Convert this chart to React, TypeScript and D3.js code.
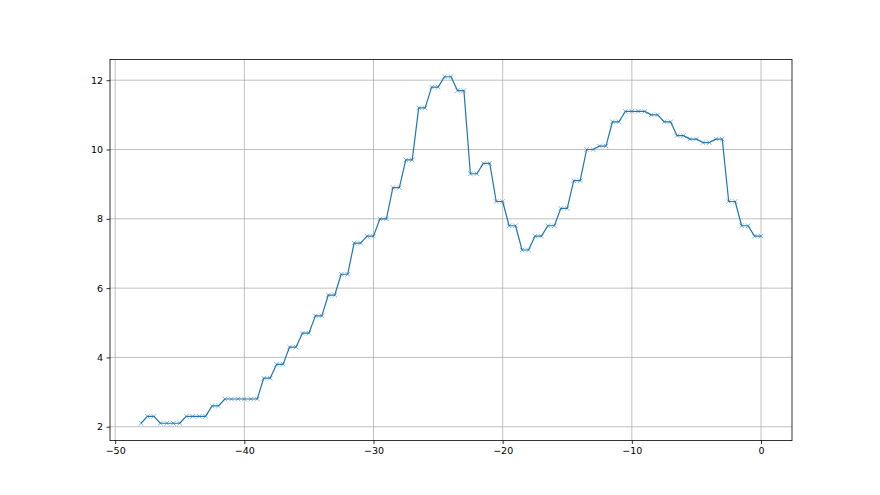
import React, { useEffect, useRef } from 'react';
import * as d3 from 'd3';

const hours = [
  -48,
  -47.5, -47, -46.5, -46, -45.5, -45, -44.5, -44, -43.5, -43,
  -42.5, -42, -41.5, -41, -40.5, -40, -39.5, -39, -38.5, -38,
  -37.5, -37, -36.5, -36, -35.5, -35, -34.5, -34, -33.5, -33,
  -32.5, -32, -31.5, -31, -30.5, -30, -29.5, -29, -28.5, -28,
  -27.5, -27, -26.5, -26, -25.5, -25, -24.5, -24, -23.5, -23,
  -22.5, -22, -21.5, -21, -20.5, -20, -19.5, -19, -18.5, -18,
  -17.5, -17, -16.5, -16, -15.5, -15, -14.5, -14, -13.5, -13,
  -12.5, -12, -11.5, -11, -10.5, -10, -9.5, -9, -8.5, -8,
  -7.5, -7, -6.5, -6, -5.5, -5, -4.5, -4, -3.5, -3,
  -2.5, -2, -1.5, -1, -0.5, 0,
];

const values = [
  2.1,
  2.3, 2.3, 2.1, 2.1, 2.1, 2.1, 2.3, 2.3, 2.3, 2.3,
  2.6, 2.6, 2.8, 2.8, 2.8, 2.8, 2.8, 2.8, 3.4, 3.4,
  3.8, 3.8, 4.3, 4.3, 4.7, 4.7, 5.2, 5.2, 5.8, 5.8,
  6.4, 6.4, 7.3, 7.3, 7.5, 7.5, 8.0, 8.0, 8.9, 8.9,
  9.7, 9.7, 11.2, 11.2, 11.8, 11.8, 12.1, 12.1, 11.7, 11.7,
  9.3, 9.3, 9.6, 9.6, 8.5, 8.5, 7.8, 7.8, 7.1, 7.1,
  7.5, 7.5, 7.8, 7.8, 8.3, 8.3, 9.1, 9.1, 10.0, 10.0,
  10.1, 10.1, 10.8, 10.8, 11.1, 11.1, 11.1, 11.1, 11.0, 11.0,
  10.8, 10.8, 10.4, 10.4, 10.3, 10.3, 10.2, 10.2, 10.3, 10.3,
  8.5, 8.5, 7.8, 7.8, 7.5, 7.5,
];

const xTicks = [-50, -40, -30, -20, -10, 0];
const yTicks = [2, 4, 6, 8, 10, 12];

export default function App() {
  const ref = useRef<SVGSVGElement>(null);

  useEffect(() => {
    const width = 880;
    const height = 495;
    // matplotlib default subplot box
    const left = 110, right = 792, top = 59.4, bottom = 440.6;

    const svg = d3.select(ref.current);
    svg.selectAll('*').remove();
    svg.attr('width', width).attr('height', height);

    svg.append('rect').attr('width', width).attr('height', height).attr('fill', 'white');

    const data = hours.map((h, i) => [h, values[i]] as [number, number]);

    // 5% margins like matplotlib autoscale
    const [x0, x1] = d3.extent(hours) as [number, number];
    const [y0, y1] = d3.extent(values) as [number, number];
    const xPad = (x1 - x0) * 0.05;
    const yPad = (y1 - y0) * 0.05;

    const x = d3.scaleLinear().domain([x0 - xPad, x1 + xPad]).range([left, right]);
    const y = d3.scaleLinear().domain([y0 - yPad, y1 + yPad]).range([bottom, top]);

    const fmt = (v: number) => String(v).replace('-', '\u2212');

    // grid
    const grid = svg.append('g').attr('stroke', '#b0b0b0').attr('stroke-width', 0.8);
    grid.selectAll('line.gx').data(xTicks).enter().append('line')
      .attr('x1', d => x(d)).attr('x2', d => x(d))
      .attr('y1', top).attr('y2', bottom);
    grid.selectAll('line.gy').data(yTicks).enter().append('line')
      .attr('x1', left).attr('x2', right)
      .attr('y1', d => y(d)).attr('y2', d => y(d));

    // line
    const line = d3.line<[number, number]>().x(d => x(d[0])).y(d => y(d[1]));
    svg.append('path')
      .datum(data)
      .attr('fill', 'none')
      .attr('stroke', '#1f77b4')
      .attr('stroke-width', 1.2)
      .attr('stroke-linejoin', 'round')
      .attr('d', line);

    // 'x' markers
    const s = 2.3;
    svg.append('g').selectAll('path').data(data).enter().append('path')
      .attr('d', d => {
        const cx = x(d[0]), cy = y(d[1]);
        return `M${cx - s},${cy - s}L${cx + s},${cy + s}M${cx - s},${cy + s}L${cx + s},${cy - s}`;
      })
      .attr('stroke', '#1f77b4')
      .attr('stroke-opacity', 0.75)
      .attr('stroke-width', 0.7)
      .attr('fill', 'none');

    // spines
    svg.append('rect')
      .attr('x', left).attr('y', top)
      .attr('width', right - left).attr('height', bottom - top)
      .attr('fill', 'none').attr('stroke', 'black').attr('stroke-width', 0.8);

    // ticks + labels
    const xAxis = svg.append('g').attr('transform', `translate(0,${bottom})`)
      .call(d3.axisBottom(x).tickValues(xTicks).tickSize(3.5).tickPadding(3.5).tickFormat(d => fmt(d as number)));
    const yAxis = svg.append('g').attr('transform', `translate(${left},0)`)
      .call(d3.axisLeft(y).tickValues(yTicks).tickSize(3.5).tickPadding(3.5).tickFormat(d => fmt(d as number)));

    [xAxis, yAxis].forEach(g => {
      g.select('.domain').remove();
      g.selectAll('line').attr('stroke', 'black').attr('stroke-width', 0.8);
      g.selectAll('text')
        .attr('fill', 'black')
        .style('font-family', '"DejaVu Sans", sans-serif')
        .style('font-size', '9.5px');
    });
  }, []);

  return <svg ref={ref} style={{ position: 'absolute', left: 0, top: 0 }} />;
}
